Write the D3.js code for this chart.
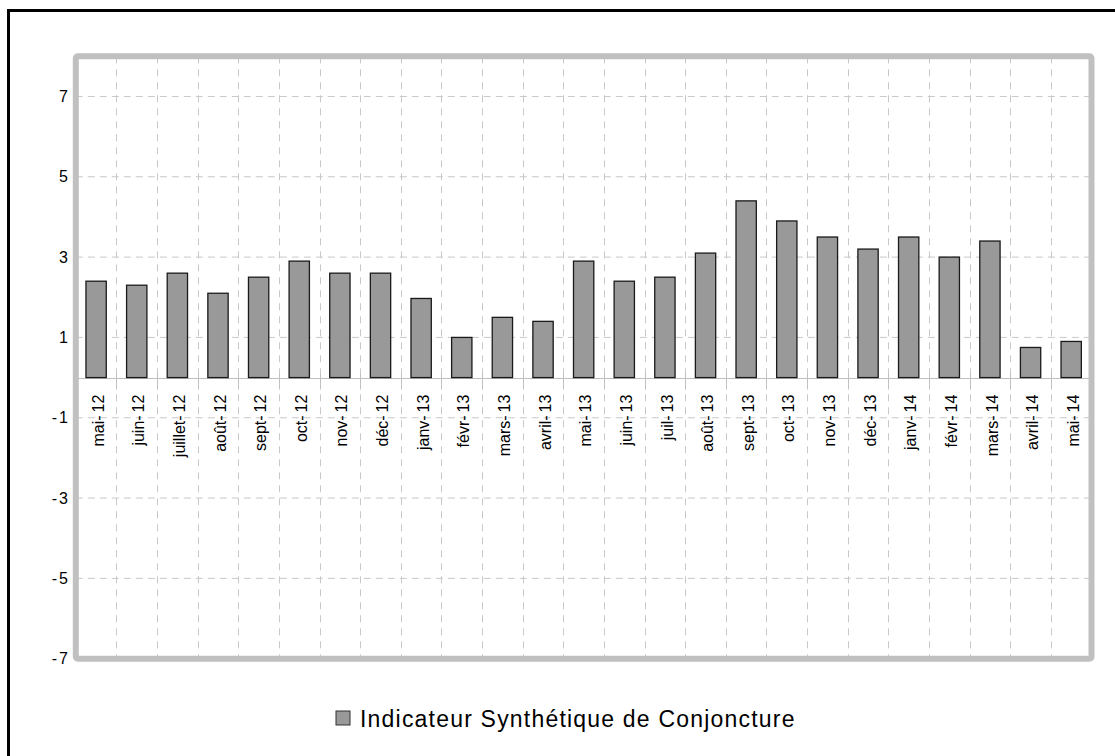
<!DOCTYPE html>
<html>
<head>
  <meta charset="utf-8">
  <title>Indicateur Synthétique de Conjoncture</title>
  <script src="https://cdn.jsdelivr.net/npm/d3@7"></script>
  <style>
    html, body { margin: 0; background: #fff; overflow: hidden; font-family: "Liberation Sans", Arial, sans-serif; }
    svg { display: block; }
  </style>
</head>
<body>
  <div id="chart"></div>
  <script>
    const months = ["mai-12", "juin-12", "juillet-12", "août-12", "sept-12", "oct-12", "nov-12", "déc-12",
      "janv-13", "févr-13", "mars-13", "avril-13", "mai-13", "juin-13", "juil-13", "août-13", "sept-13",
      "oct-13", "nov-13", "déc-13", "janv-14", "févr-14", "mars-14", "avril-14", "mai-14"];
    const isc = [2.4, 2.3, 2.6, 2.1, 2.5, 2.9, 2.6, 2.6, 1.97, 1.0, 1.5, 1.4, 2.9, 2.4, 2.5, 3.1, 4.4,
      3.9, 3.5, 3.2, 3.5, 3.0, 3.4, 0.75, 0.9];
    const yTicks = [7, 5, 3, 1, -1, -3, -5, -7];
    const seriesName = "Indicateur Synthétique de Conjoncture";

    const W = 1115, H = 756;
    const plot = {left: 75.8, right: 1091.5, top: 56.3, bottom: 658.7};

    const svg = d3.select("#chart").append("svg")
      .attr("width", W).attr("height", H);

    // outer black frame (runs off the right/bottom of the picture)
    svg.append("rect")
      .attr("x", 8.5).attr("y", 10.5)
      .attr("width", 1200).attr("height", 900)
      .attr("fill", "none").attr("stroke", "#000").attr("stroke-width", 3);

    const x = d3.scaleBand().domain(months)
      .range([plot.left, plot.right])
      .paddingInner(0.5).paddingOuter(0.25);
    const gx = d3.scaleBand().domain(months).range([plot.left, plot.right]);
    const y = d3.scaleLinear().domain([-7, 8]).range([plot.bottom, plot.top]);

    // horizontal dashed grid
    svg.append("g").selectAll("line")
      .data(yTicks.filter(d => d > -7))
      .join("line")
        .attr("x1", plot.left).attr("x2", plot.right)
        .attr("y1", d => y(d)).attr("y2", d => y(d))
        .attr("stroke", "#c8c8c8").attr("stroke-width", 1)
        .attr("stroke-dasharray", "7,5");

    // vertical dashed grid at category boundaries
    svg.append("g").selectAll("line")
      .data(months.slice(1))
      .join("line")
        .attr("x1", d => Math.round(gx(d)) + 0.5).attr("x2", d => Math.round(gx(d)) + 0.5)
        .attr("y1", plot.top).attr("y2", plot.bottom)
        .attr("stroke", "#c8c8c8").attr("stroke-width", 1)
        .attr("stroke-dasharray", "7,6");

    // zero axis with small ticks
    svg.append("line")
      .attr("x1", plot.left).attr("x2", plot.right)
      .attr("y1", Math.round(y(0)) + 0.5).attr("y2", Math.round(y(0)) + 0.5)
      .attr("stroke", "#bdbdbd").attr("stroke-width", 1);
    svg.append("g").selectAll("line")
      .data(months.slice(1))
      .join("line")
        .attr("x1", d => Math.round(gx(d)) + 0.5).attr("x2", d => Math.round(gx(d)) + 0.5)
        .attr("y1", y(0) - 4).attr("y2", y(0) + 12)
        .attr("stroke", "#c0c0c0").attr("stroke-width", 1);

    // bars
    svg.append("g").selectAll("rect")
      .data(months)
      .join("rect")
        .attr("x", d => x(d))
        .attr("width", x.bandwidth())
        .attr("y", (d, i) => y(Math.max(0, isc[i])))
        .attr("height", (d, i) => Math.abs(y(isc[i]) - y(0)))
        .attr("fill", "#999999")
        .attr("stroke", "#1a1a1a").attr("stroke-width", 1.3);

    // plot frame
    svg.append("rect")
      .attr("x", plot.left).attr("y", plot.top)
      .attr("width", plot.right - plot.left).attr("height", plot.bottom - plot.top)
      .attr("rx", 2)
      .attr("fill", "none").attr("stroke", "#c0c0c0").attr("stroke-width", 6);

    // y tick labels (the original leaves a small gap after the minus sign)
    const yl = svg.append("g").selectAll("text")
      .data(yTicks)
      .join("text")
        .attr("x", 68).attr("y", d => y(d))
        .attr("dy", "0.35em")
        .attr("text-anchor", "end")
        .attr("font-size", 16).attr("fill", "#000");
    yl.filter(d => d < 0).append("tspan").text("-");
    yl.append("tspan").attr("dx", d => d < 0 ? 2 : 0).text(d => Math.abs(d));

    // x tick labels, rotated
    const xl = svg.append("g").selectAll("text")
      .data(months)
      .join("text")
        .attr("transform", d => `translate(${x(d) + x.bandwidth() / 2 + 2},${y(0) + 17}) rotate(-90)`)
        .attr("dy", "0.35em")
        .attr("text-anchor", "end")
        .attr("font-size", 16).attr("fill", "#000");
    xl.append("tspan").text(d => d.split("-")[0] + "-");
    xl.append("tspan").attr("dx", 3).text(d => d.split("-")[1]);

    // legend
    const lg = svg.append("g").attr("transform", "translate(336,711)");
    lg.append("rect")
      .attr("width", 14).attr("height", 14)
      .attr("fill", "#999999").attr("stroke", "#333").attr("stroke-width", 1);
    lg.append("text")
      .attr("x", 24).attr("y", 15.5)
      .attr("font-size", 23).attr("letter-spacing", 1.2).attr("fill", "#000")
      .text(seriesName);
  </script>
</body>
</html>
